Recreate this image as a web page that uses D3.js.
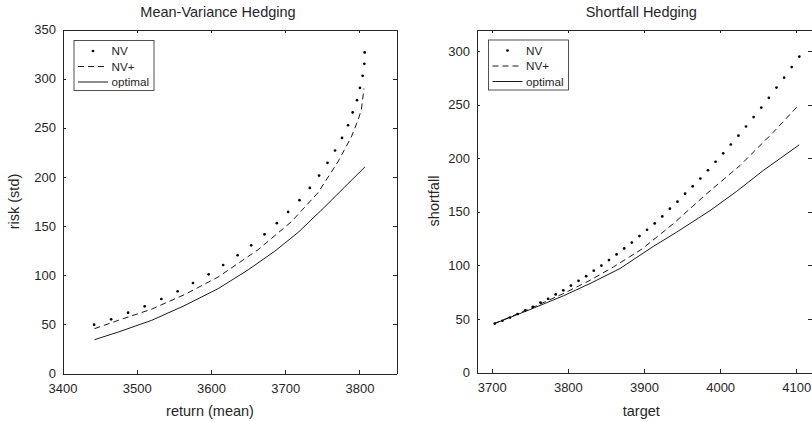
<!DOCTYPE html>
<html>
<head>
<meta charset="utf-8">
<script src="https://cdn.jsdelivr.net/npm/d3@7"></script>
<style>
  html, body { margin: 0; padding: 0; background: #fff; }
  svg { display: block; }
  text { font-family: "Liberation Sans", Arial, Helvetica, sans-serif; fill: #262626; }
</style>
</head>
<body>
<svg id="chart" width="812" height="422"></svg>
<script>
// ---------- Data: Mean-Variance Hedging ----------
const mvTitle = "Mean-Variance Hedging";
const mvXLabel = "return (mean)";
const mvYLabel = "risk (std)";
const mvXTicks = [3400, 3500, 3600, 3700, 3800];
const mvYTicks = [0, 50, 100, 150, 200, 250, 300, 350];

const mvNvX = [3442.6, 3465.5, 3488.4, 3510.8, 3533.2, 3555.2, 3575.8, 3596.9, 3616.5, 3635.9, 3654.2, 3672.2, 3688.8, 3704.0, 3719.3, 3733.2, 3745.7, 3757.0, 3767.2, 3776.6, 3784.7, 3791.0, 3796.8, 3800.8, 3804.4, 3806.7, 3807.1];
const mvNvY = [49.7, 55.1, 61.9, 68.3, 75.8, 83.6, 92.1, 100.9, 110.4, 120.3, 130.4, 141.6, 152.9, 164.4, 176.3, 188.8, 201.4, 214.3, 226.9, 239.7, 252.6, 265.6, 278.1, 290.6, 302.9, 315.1, 326.7];

const mvPlusX = [3443.0, 3475.3, 3520.2, 3565.0, 3609.8, 3663.6, 3708.5, 3744.3, 3771.2, 3789.2, 3798.1, 3802.7, 3806.2];
const mvPlusY = [45.6, 54.1, 65.5, 80.5, 98.2, 126.0, 154.5, 184.0, 215.5, 240.7, 257.7, 268.5, 290.0];

const mvOptX = [3443.0, 3475.3, 3520.2, 3565.0, 3609.8, 3650.2, 3686.1, 3717.4, 3753.3, 3780.2, 3807.5];
const mvOptY = [34.4, 42.2, 54.1, 69.3, 86.4, 105.5, 124.5, 143.5, 169.5, 189.8, 210.2];

// ---------- Data: Shortfall Hedging ----------
const sfTitle = "Shortfall Hedging";
const sfXLabel = "target";
const sfYLabel = "shortfall";
const sfXTicks = [3700, 3800, 3900, 4000, 4100];
const sfYTicks = [0, 50, 100, 150, 200, 250, 300];

const sfNvX = [3704, 3714, 3724, 3734, 3744, 3754, 3764, 3774, 3784, 3794, 3804, 3814, 3824, 3834, 3844, 3854, 3864, 3874, 3884, 3894, 3904, 3914, 3924, 3934, 3944, 3954, 3964, 3974, 3984, 3994, 4004, 4014, 4024, 4034, 4044, 4054, 4064, 4074, 4084, 4094, 4104];
const sfNvY = [45.6, 48.3, 51.3, 54.6, 58.0, 61.3, 65.2, 68.8, 72.8, 76.7, 81.1, 85.5, 89.9, 95.0, 99.8, 104.9, 110.2, 115.8, 121.2, 127.3, 133.2, 139.1, 145.6, 152.8, 159.4, 166.8, 173.7, 181.0, 188.7, 196.6, 204.5, 212.7, 220.9, 229.5, 238.3, 247.2, 256.3, 265.8, 275.1, 284.9, 294.7];

const sfPlusX = [3703.4, 3750.3, 3794.0, 3829.1, 3859.7, 3897.0, 3938.5, 3982.3, 4026.1, 4069.8, 4103.9];
const sfPlusY = [45.6, 59.6, 73.6, 86.0, 98.4, 115.0, 138.8, 166.8, 193.1, 224.1, 250.0];

const sfOptX = [3703.4, 3750.3, 3794.0, 3829.1, 3868.5, 3912.0, 3943.0, 3986.7, 4021.7, 4056.7, 4103.9];
const sfOptY = [45.6, 58.7, 71.5, 83.0, 97.0, 117.5, 131.0, 151.0, 169.0, 188.5, 212.4];

const legendLabels = ["NV", "NV+", "optimal"];

// ---------- Drawing ----------
const svg = d3.select("#chart");
const axisColor = "#262626";

function zip(xs, ys) { return xs.map((x, i) => [x, ys[i]]); }

function panel(cfg) {
  const g = svg.append("g");
  const x = d3.scaleLinear().domain(cfg.xDomain).range([cfg.left, cfg.right]);
  const y = d3.scaleLinear().domain(cfg.yDomain).range([cfg.bottom, cfg.top]);
  const tk = 3.5;

  // axes (ticks inward, mirrored box)
  const ax = [
    { a: d3.axisBottom(x).tickValues(cfg.xTicks).tickFormat(d3.format("d")).tickSizeInner(-tk).tickSizeOuter(0).tickPadding(10.3), t: `translate(0,${cfg.bottom})` },
    { a: d3.axisTop(x).tickValues(cfg.xTicks).tickFormat("").tickSizeInner(-tk).tickSizeOuter(0), t: `translate(0,${cfg.top})` },
    { a: d3.axisLeft(y).tickValues(cfg.yTicks).tickFormat(d3.format("d")).tickSizeInner(-tk).tickSizeOuter(0).tickPadding(6.5), t: `translate(${cfg.left},0)` },
    { a: d3.axisRight(y).tickValues(cfg.yTicks).tickFormat("").tickSizeInner(-tk).tickSizeOuter(0), t: `translate(${cfg.right},0)` }
  ];
  ax.forEach(o => {
    const ag = g.append("g").attr("transform", o.t).call(o.a);
    ag.selectAll("path.domain").attr("stroke", axisColor).attr("stroke-width", 1).attr("shape-rendering", "crispEdges");
    ag.selectAll(".tick line").attr("stroke", axisColor).attr("stroke-width", 1).attr("shape-rendering", "crispEdges");
    ag.selectAll(".tick text").attr("fill", axisColor).style("font-size", "13px")
      .style("font-family", '"Liberation Sans", Arial, sans-serif');
  });

  // title and axis labels
  g.append("text").attr("x", cfg.titleX).attr("y", 17).attr("text-anchor", "middle")
    .style("font-size", "14.5px").text(cfg.title);
  g.append("text").attr("x", cfg.xLabelX).attr("y", 416).attr("text-anchor", "middle")
    .style("font-size", "14.5px").text(cfg.xLabel);
  g.append("text").attr("transform", `translate(${cfg.yLabelX},${(cfg.top + cfg.bottom) / 2}) rotate(-90)`)
    .attr("text-anchor", "middle").style("font-size", "14.5px").text(cfg.yLabel);

  // data
  const line = d3.line().x(d => x(d[0])).y(d => y(d[1]));
  g.append("path").datum(zip(cfg.optX, cfg.optY)).attr("d", line)
    .attr("fill", "none").attr("stroke", "#000").attr("stroke-width", 0.9);
  g.append("path").datum(zip(cfg.plusX, cfg.plusY)).attr("d", line)
    .attr("fill", "none").attr("stroke", "#000").attr("stroke-width", 0.9).attr("stroke-dasharray", "6,4");
  g.append("g").selectAll("circle").data(zip(cfg.nvX, cfg.nvY)).join("circle")
    .attr("cx", d => x(d[0])).attr("cy", d => y(d[1])).attr("r", 1.35).attr("fill", "#000");

  // legend
  const L = cfg.legend;
  const lg = g.append("g");
  lg.append("rect").attr("x", L.x).attr("y", L.y).attr("width", 80).attr("height", 50)
    .attr("fill", "#fff").attr("stroke", axisColor).attr("stroke-width", 0.8);
  const rows = [L.y + 10.5, L.y + 26, L.y + 41.5];
  const sx0 = L.x + 4, sx1 = L.x + 34, tx = L.x + 37.5;
  lg.append("circle").attr("cx", (sx0 + sx1) / 2).attr("cy", rows[0]).attr("r", 1.35).attr("fill", "#000");
  lg.append("line").attr("x1", sx0).attr("x2", sx1).attr("y1", rows[1]).attr("y2", rows[1])
    .attr("stroke", "#000").attr("stroke-width", 0.9).attr("stroke-dasharray", "6,4");
  lg.append("line").attr("x1", sx0).attr("x2", sx1).attr("y1", rows[2]).attr("y2", rows[2])
    .attr("stroke", "#000").attr("stroke-width", 0.9);
  legendLabels.forEach((t, i) => {
    lg.append("text").attr("x", tx).attr("y", rows[i]).attr("dy", "0.35em")
      .style("font-size", "11.7px").text(t);
  });
}

panel({
  left: 62.5, right: 396.5, top: 29.5, bottom: 373.5,
  xDomain: [3400, 3850], yDomain: [0, 350],
  xTicks: mvXTicks, yTicks: mvYTicks,
  title: mvTitle, xLabel: mvXLabel, yLabel: mvYLabel,
  titleX: 218, xLabelX: 210, yLabelX: 19,
  nvX: mvNvX, nvY: mvNvY, plusX: mvPlusX, plusY: mvPlusY, optX: mvOptX, optY: mvOptY,
  legend: { x: 74, y: 40.5 }
});

panel({
  left: 476.5, right: 811.5, top: 29.5, bottom: 372.5,
  xDomain: [3680, 4120], yDomain: [0, 320],
  xTicks: sfXTicks, yTicks: sfYTicks,
  title: sfTitle, xLabel: sfXLabel, yLabel: sfYLabel,
  titleX: 641.3, xLabelX: 641.3, yLabelX: 438.5,
  nvX: sfNvX, nvY: sfNvY, plusX: sfPlusX, plusY: sfPlusY, optX: sfOptX, optY: sfOptY,
  legend: { x: 488.5, y: 40 }
});
</script>
</body>
</html>
